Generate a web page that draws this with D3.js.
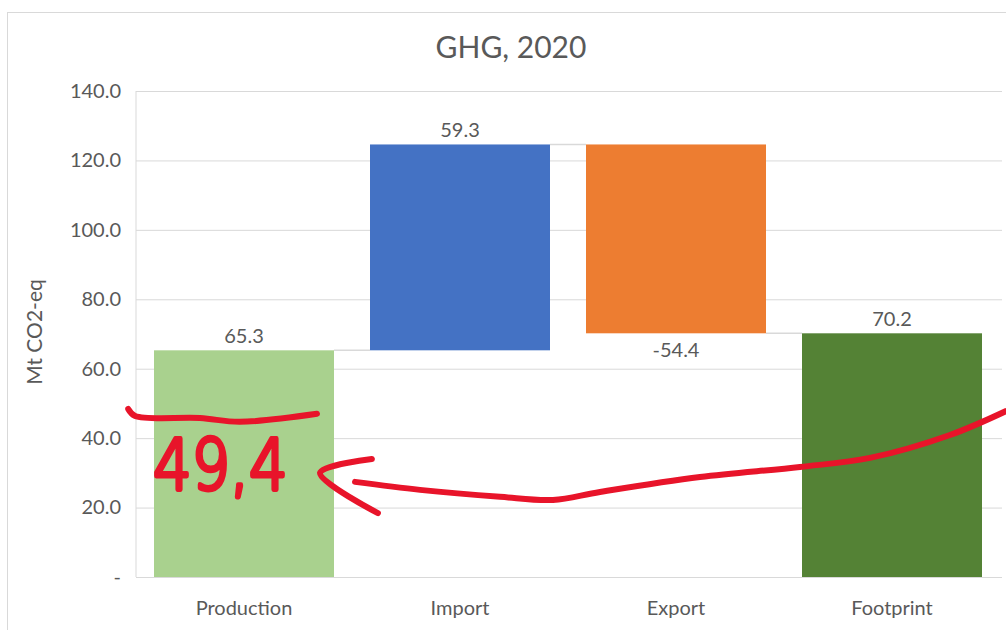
<!DOCTYPE html>
<html>
<head>
<meta charset="utf-8">
<script src="https://cdn.jsdelivr.net/npm/d3@7"></script>
<style>
  body { margin: 0; background: #fff; }
  svg { display: block; font-family: Lato, "Open Sans", sans-serif; }
</style>
</head>
<body>
<svg class="waterfall"></svg>
<script>
const categories = ['Production', 'Import', 'Export', 'Footprint'];
const changes = [65.3, 59.3, -54.4, 70.2];
const isTotal = [true, false, false, true];
const barColors = ['#a9d18e', '#4472c4', '#ed7d31', '#548235'];
const yTicks = [0, 20, 40, 60, 80, 100, 120, 140];

// hand-drawn red note: underline, label and arrow (x in plot fraction, y in data units)
const noteUnderline = [[-0.009, 48.4], [-0.001, 46.4], [0.074, 45.8], [0.12, 44.7], [0.2095, 47.0]];
const noteLabel = '49,4';
const noteArrowHead = [[0.273, 34.0], [0.213, 30.0], [0.28, 18.4]];
const noteArrowCurve = [[0.2535, 27.4], [0.3287, 25.1], [0.4213, 23.1], [0.4826, 22.2],
                        [0.537, 24.5], [0.6528, 28.8], [0.7685, 31.7], [0.8495, 34.3],
                        [0.9421, 40.9], [1.007, 47.8]];

const svgWidth = 1006;
const svgHeight = 630;
const margin = {top: 91, right: 6, bottom: 53, left: 136};
const width = svgWidth - margin.left - margin.right;
const height = svgHeight - margin.top - margin.bottom;
const fmt = v => v.toFixed(1);

const svg = d3.select('.waterfall')
    .attr('width', svgWidth)
    .attr('height', svgHeight);

// chart frame
svg.append('rect')
    .attr('x', 7.5).attr('y', 12.5)
    .attr('width', svgWidth).attr('height', svgHeight)
    .attr('fill', 'none')
    .attr('stroke', '#d9d9d9');

svg.append('text')
    .attr('x', 511).attr('y', 58)
    .attr('text-anchor', 'middle')
    .attr('fill', '#595959')
    .style('font-size', '30px')
    .text('GHG, 2020');

const g = svg.append('g')
    .attr('transform', `translate(${margin.left}, ${margin.top})`);

// running totals for the floating bars
let running = 0;
const data = categories.map((c, i) => {
    let start, end;
    if (isTotal[i]) { start = 0; end = changes[i]; running = changes[i]; }
    else { start = running; end = running + changes[i]; running = end; }
    return {name: c, value: changes[i], start, end, color: barColors[i]};
});

const x = d3.scaleBand()
    .domain(categories)
    .range([0, width])
    .paddingInner(1 / 6)
    .paddingOuter(1 / 12);
const y = d3.scaleLinear()
    .domain([0, 140])
    .range([height, 0]);
const xn = d3.scaleLinear().domain([0, 1]).range([0, width]);

// gridlines
g.append('g')
    .call(d3.axisLeft(y).tickValues(yTicks).tickSize(-(width + 2)).tickFormat(''))
    .call(a => a.select('.domain').remove())
    .selectAll('line')
    .attr('stroke', '#d9d9d9');

g.append('line')
    .attr('y1', 0).attr('y2', height)
    .attr('stroke', '#d9d9d9');

// tick labels
g.append('g')
    .call(d3.axisLeft(y).tickValues(yTicks).tickSize(0).tickPadding(15)
        .tickFormat(d => d === 0 ? '-' : fmt(d)))
    .call(a => a.select('.domain').remove())
    .selectAll('text')
    .attr('fill', '#595959')
    .style('font-family', 'Lato, sans-serif')
    .style('font-size', '20px');

g.append('g')
    .attr('transform', `translate(0, ${height})`)
    .call(d3.axisBottom(x).tickSize(0).tickPadding(24))
    .call(a => a.select('.domain').remove())
    .selectAll('text')
    .attr('fill', '#595959')
    .style('font-family', 'Lato, sans-serif')
    .style('font-size', '20px');

svg.append('text')
    .attr('transform', 'translate(42, 332) rotate(-90)')
    .attr('text-anchor', 'middle')
    .attr('fill', '#595959')
    .style('font-size', '21px')
    .text('Mt CO2-eq');

// connectors
g.selectAll('.connector')
    .data(data.slice(0, -1))
    .join('line')
    .attr('x1', d => x(d.name) + x.bandwidth())
    .attr('x2', (d, i) => x(categories[i + 1]))
    .attr('y1', d => y(d.end))
    .attr('y2', d => y(d.end))
    .attr('stroke', '#d9d9d9')
    .attr('stroke-width', 1.5);

g.selectAll('.bar')
    .data(data)
    .join('rect')
    .attr('x', d => x(d.name))
    .attr('width', x.bandwidth())
    .attr('y', d => y(Math.max(d.start, d.end)))
    .attr('height', d => Math.abs(y(d.start) - y(d.end)))
    .attr('fill', d => d.color);

g.selectAll('.label')
    .data(data)
    .join('text')
    .attr('x', d => x(d.name) + x.bandwidth() / 2)
    .attr('y', d => d.value < 0 ? y(d.end) + 24 : y(d.end) - 7)
    .attr('text-anchor', 'middle')
    .attr('fill', '#595959')
    .style('font-size', '20px')
    .text(d => fmt(d.value));

// red annotation
const note = g.append('g')
    .attr('fill', 'none')
    .attr('stroke', '#e8142a')
    .attr('stroke-width', 6)
    .attr('stroke-linecap', 'round')
    .attr('stroke-linejoin', 'round');
const curve = d3.line().x(d => xn(d[0])).y(d => y(d[1])).curve(d3.curveCatmullRom);

note.append('path').attr('d', curve(noteUnderline));
note.append('path').attr('d', curve(noteArrowHead));
note.append('path').attr('d', curve(noteArrowCurve));

g.append('text')
    .attr('transform', `translate(${xn(0.02)}, ${y(25.3)}) scale(1.04, 1.2)`)
    .attr('fill', '#e8142a')
    .attr('stroke', '#e8142a')
    .attr('stroke-width', 4)
    .attr('stroke-linejoin', 'round')
    .attr('stroke-linecap', 'round')
    .style('font-family', '"DejaVu Sans", sans-serif')
    .style('font-weight', 200)
    .style('font-size', '58px')
    .text(noteLabel);
</script>
</body>
</html>
